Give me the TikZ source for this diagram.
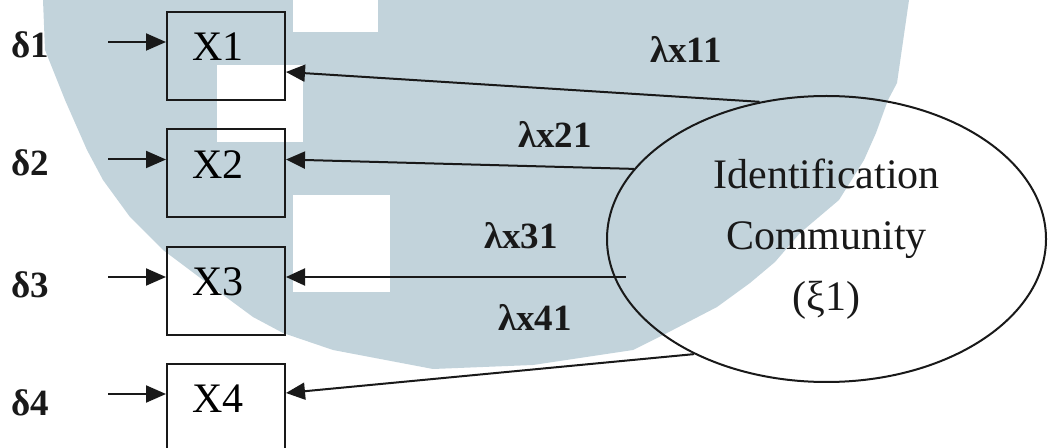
\documentclass[tikz,border=0pt]{standalone}
\usepackage{fontspec}
\setmainfont{Liberation Serif}
\usepackage{tikz}
\usetikzlibrary{arrows.meta,shapes.geometric,positioning,calc}

\definecolor{wmblue}{RGB}{194,211,219}
\definecolor{ink}{RGB}{25,25,25}

\begin{document}
\begin{tikzpicture}[x=0.5pt,y=-0.5pt,
	obs/.style={draw=ink,line width=1pt,minimum width=59pt,minimum height=44pt,inner ysep=0pt,inner xsep=12.5pt,text width=34pt,align=left,text height=14pt,text depth=9pt,font=\fontsize{21}{25}\selectfont},
	errlab/.style={text=ink,font=\bfseries\fontsize{18.5}{22}\selectfont},
	loadlab/.style={text=ink,font=\bfseries\fontsize{18.5}{22}\selectfont},
	errarr/.style={draw=ink,line width=1pt,-{Triangle[length=10pt,width=8.5pt]}},
	loadarr/.style={draw=ink,line width=1pt,-{Triangle[length=9.5pt,width=8.5pt]}}]

	\useasboundingbox (0,0) rectangle (1049,448);
	\clip (0,0) rectangle (1049,448);

	% watermark behind the model
	\fill[wmblue] (43,0) -- (45,50) -- (65,100) -- (87,150) -- (103,180) -- (130,217) -- (163,250) -- (207,283) -- (253,317) -- (283,333) -- (333,350) -- (433,369) -- (533,365) -- (633,350) -- (667,333) -- (717,307) -- (750,283) -- (775,262) -- (800,233) -- (839,200) -- (864,160) -- (876,133) -- (888,100) -- (897,83) -- (909,0) -- cycle;
	\fill[white] (293,0) rectangle (378,32);
	\fill[white] (217,65) rectangle (303,142);
	\fill[white] (293,195) rectangle (390,292);

	% indicators
	\node[obs] (X1) at (226,56) {X1};
	\node[obs] (X2) at (226,173.5) {X2};
	\node[obs] (X3) at (226,291) {X3};
	\node[obs] (X4) at (226,408) {X4};

	% errors
	\node[errlab] (d1) at (30,45) {δ1};
	\coordinate (e1) at (108,42);
	\draw[errarr] (e1) -- (e1 -| X1.west);

	\node[errlab] (d2) at (30,163) {δ2};
	\coordinate (e2) at (108,159.5);
	\draw[errarr] (e2) -- (e2 -| X2.west);

	\node[errlab] (d3) at (30,285) {δ3};
	\coordinate (e3) at (108,277);
	\draw[errarr] (e3) -- (e3 -| X3.west);

	\node[errlab] (d4) at (30,403) {δ4};
	\coordinate (e4) at (108,394);
	\draw[errarr] (e4) -- (e4 -| X4.west);

	% latent variable
	\node[draw=ink,line width=1pt,ellipse,minimum width=219.5pt,minimum height=143pt,inner sep=0pt,align=center,text=ink,font=\fontsize{21}{30.5}\selectfont] (xi) at (826.5,239) {Identification\\Community\\(ξ1)};

	% loadings
	\draw[loadarr] (xi.116.9) -- ([yshift=-8pt]X1.east);
	\node[loadlab] (l11) at (686,49) {λx11};

	\draw[loadarr] (xi.160.6) -- ([yshift=7pt]X2.east);
	\node[loadlab] (l21) at (555,134) {λx21};

	\draw[loadarr] ([xshift=10pt,yshift=-19pt]xi.west) -- ([yshift=7pt]X3.east);
	\node[loadlab] (l31) at (521,236) {λx31};

	\draw[loadarr] (xi.221.4) -- ([yshift=7.5pt]X4.east);
	\node[loadlab] (l41) at (535,317) {λx41};
\end{tikzpicture}
\end{document}
